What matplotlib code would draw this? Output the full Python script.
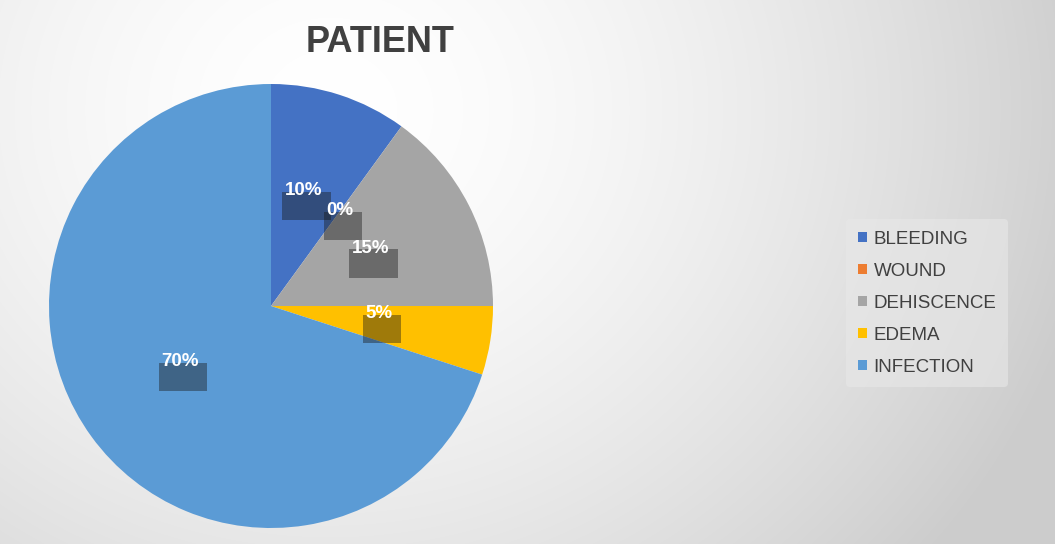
import numpy as np
import matplotlib
matplotlib.use("Agg")
import matplotlib.pyplot as plt

categories = ["BLEEDING", "WOUND", "DEHISCENCE", "EDEMA", "INFECTION"]
values = [10, 0, 15, 5, 70]
labels = ["10%", "0%", "15%", "5%", "70%"]
colors = ["#4472C4", "#ED7D31", "#A5A5A5", "#FFC000", "#5B9BD5"]

plt.rcParams['font.family'] = ['Liberation Sans', 'DejaVu Sans']

W, H = 1055, 544
fig = plt.figure(figsize=(W / 100, H / 100), dpi=100)

# background gradient
bg = fig.add_axes([0, 0, 1, 1])
yy, xx = np.mgrid[0:H, 0:W]
d = np.sqrt(((xx - 330) / 1.0) ** 2 + ((yy - 110) / 0.9) ** 2)
t = np.clip(d / 780, 0, 1) ** 1.6
val = 1.0 - t * (1.0 - 0.80)
img = np.dstack([val, val, val])
bg.imshow(img, aspect='auto', extent=[0, W, H, 0])
bg.set_xlim(0, W)
bg.set_ylim(H, 0)
bg.axis('off')

# pie
cx, cy, r = 271, 306, 222
ax = fig.add_axes([(cx - r) / W, 1 - (cy + r) / H, 2 * r / W, 2 * r / H])
wedges, _ = ax.pie(values, colors=colors, startangle=90, counterclock=False,
                   radius=1.0, wedgeprops=dict(linewidth=0))
ax.set_xlim(-1, 1)
ax.set_ylim(-1, 1)
ax.set_aspect('auto')

# label positions (fraction of radius, angle in degrees)
label_pos = [(0.54, 74), (0.53, 54), (0.52, 30), (0.49, -4), (0.48, 211.6)]
for lab, (rr, ang) in zip(labels, label_pos):
    x = rr * np.cos(np.radians(ang))
    y = rr * np.sin(np.radians(ang))
    ax.annotate(lab, (x, y), xytext=(2, -11), textcoords='offset points',
                ha='center', va='center', fontsize=13.5, fontweight='bold',
                color=(0, 0, 0, 0),
                bbox=dict(boxstyle='square,pad=0.3', facecolor='#1a1a1a',
                          alpha=0.42, edgecolor='none'))
    ax.text(x, y, lab, ha='center', va='center', fontsize=13.5,
            fontweight='bold', color='white')

# title
fig.text(380 / W, 1 - 42 / H, "PATIENT", ha='center', va='center',
         fontsize=26, fontweight='bold', color='#404040')

# legend
leg = fig.legend(wedges, categories, loc='center left',
                 bbox_to_anchor=(837 / W, 1 - 303 / H), frameon=True,
                 fontsize=13.5, handlelength=0.5, handleheight=0.5,
                 handletextpad=0.35, labelspacing=0.8, borderpad=0.6,
                 labelcolor='#404040')
leg.get_frame().set_facecolor('#e8e8e8')
leg.get_frame().set_edgecolor('none')
leg.get_frame().set_alpha(0.6)

fig.savefig("out.png", dpi=100)
